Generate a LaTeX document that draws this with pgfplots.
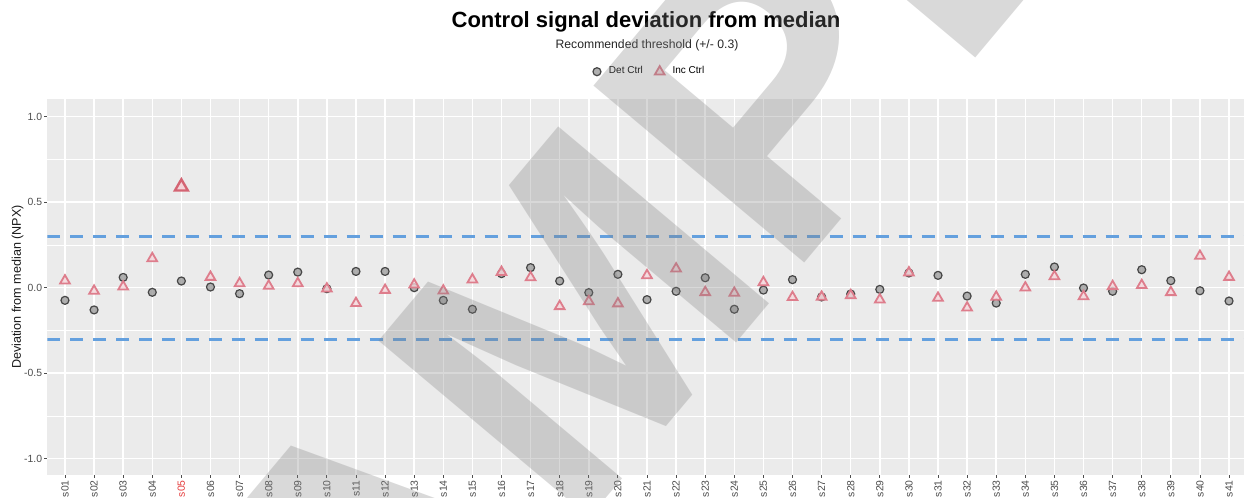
\documentclass[border=0pt]{standalone}
\usepackage{pgfplots}
\pgfplotsset{compat=1.18}
\usepackage{pgfplotstable}
\usepackage{fontspec}
\setmainfont{Liberation Sans}
\definecolor{panel}{HTML}{EBEBEB}
\definecolor{tickgray}{HTML}{4D4D4D}
\definecolor{thr}{RGB}{100,160,222}
\definecolor{triedge}{RGB}{222,125,140}
\definecolor{trifill}{RGB}{244,212,217}
\definecolor{triedgeB}{RGB}{212,100,115}
\definecolor{circfill}{RGB}{150,150,150}
\definecolor{circedge}{RGB}{70,70,70}
\definecolor{sred}{RGB}{228,60,60}

\pgfplotstableread{
x y
1 -0.074
2 -0.130
3 0.060
4 -0.027
5 0.039
6 0.004
7 -0.035
8 0.074
9 0.091
10 -0.006
11 0.095
12 0.095
13 0.000
14 -0.074
15 -0.126
16 0.082
17 0.117
18 0.039
19 -0.029
20 0.078
21 -0.070
22 -0.021
23 0.058
24 -0.126
25 -0.014
26 0.047
27 -0.054
28 -0.037
29 -0.010
30 0.086
31 0.072
32 -0.049
33 -0.090
34 0.078
35 0.121
36 -0.002
37 -0.021
38 0.105
39 0.041
40 -0.018
41 -0.078
}\detctrl

\pgfplotstableread{
x y
1 0.041
2 -0.019
3 0.006
4 0.171
6 0.062
7 0.025
8 0.010
9 0.025
10 -0.006
11 -0.091
12 -0.014
13 0.017
14 -0.018
15 0.047
16 0.091
17 0.060
18 -0.109
19 -0.080
20 -0.093
21 0.072
22 0.111
23 -0.027
24 -0.031
25 0.031
26 -0.056
27 -0.054
28 -0.045
29 -0.070
30 0.088
31 -0.060
32 -0.117
33 -0.054
34 0.000
35 0.066
36 -0.051
37 0.008
38 0.014
39 -0.027
40 0.185
41 0.062
}\incctrl

\pgfplotstableread{
x y
5 0.590
}\incout

\begin{document}
\begin{tikzpicture}
\path[use as bounding box] (0,0) rectangle (622pt,249pt);
\begin{axis}[
  at={(23.75pt,11.5pt)}, anchor=south west,
  width=599.5pt, height=188pt, scale only axis,
  xmin=0.4, xmax=41.6, ymin=-1.095, ymax=1.103,
  axis background/.style={fill=panel},
  axis line style={draw=none},
  xtick={1,...,41},
  xticklabels={s01,s02,s03,s04,{\textcolor{sred}{s05}},s06,s07,s08,s09,s10,s11,s12,s13,s14,s15,s16,s17,s18,s19,s20,s21,s22,s23,s24,s25,s26,s27,s28,s29,s30,s31,s32,s33,s34,s35,s36,s37,s38,s39,s40,s41},
  ytick={-1,-0.5,0,0.5,1},
  yticklabels={-1.0,-0.5,0.0,0.5,1.0},
  minor ytick={-0.75,-0.25,0.25,0.75},
  grid=both,
  major grid style={white, line width=0.75pt},
  minor grid style={white, line width=0.4pt},
  tick align=outside,
  tick pos=left,
  major tick length=1.5pt,
  minor tick length=0pt,
  tick style={tickgray, line width=0.4pt},
  xticklabel style={rotate=90, anchor=east, font=\fontsize{5.2}{6}\selectfont, text=tickgray, inner sep=1pt},
  yticklabel style={font=\fontsize{5.2}{6}\selectfont, text=tickgray, inner sep=1pt},
  legend style={at={(0.503,1.0726)}, anchor=center, draw=none, fill=none,
    font=\fontsize{5}{6}\selectfont, inner sep=0pt,
    /tikz/every odd column/.append style={column sep=2pt},
    /tikz/every even column/.append style={column sep=4pt}},
  legend columns=2,
  legend cell align=left,
  legend image code/.code={\draw[#1] plot coordinates {(0.1cm,0cm)};},
]
\addplot[thr, line width=1.5pt, dash pattern=on 6.5pt off 5pt, forget plot] coordinates {(0.4,0.3) (41.6,0.3)};
\addplot[thr, line width=1.5pt, dash pattern=on 6.5pt off 5pt, forget plot] coordinates {(0.4,-0.3) (41.6,-0.3)};
\addplot[only marks, mark=*, mark size=2pt, mark options={draw=circedge, fill=circfill, fill opacity=0.75, line width=0.6pt}] table {\detctrl};
\addlegendentry{Det Ctrl}
\addplot[only marks, mark=triangle*, mark size=2.8pt, mark options={draw=triedge, fill=trifill, fill opacity=0.8, line width=0.9pt}] table {\incctrl};
\addlegendentry{Inc Ctrl}
\addplot[only marks, forget plot, mark=triangle*, mark size=3.7pt, mark options={draw=triedgeB, fill=trifill, line width=1.2pt}] table {\incout};
\end{axis}
\node[anchor=base, font=\bfseries\fontsize{11}{13}\selectfont] at (323pt,235.25pt) {Control signal deviation from median};
\node[anchor=base, font=\fontsize{6.1}{7}\selectfont, text=black!85] at (323.5pt,224.5pt) {Recommended threshold (+/- 0.3)};
\node[rotate=90, font=\fontsize{6.3}{7}\selectfont, text=black!90] at (8.75pt,105.5pt) {Deviation from median (NPX)};
\node[rotate=50, inner sep=0pt, text=black!50, text opacity=0.3, font=\bfseries\fontsize{200}{200}\selectfont] at (323pt,130.5pt) {SAMPLE};
\end{tikzpicture}
\end{document}
